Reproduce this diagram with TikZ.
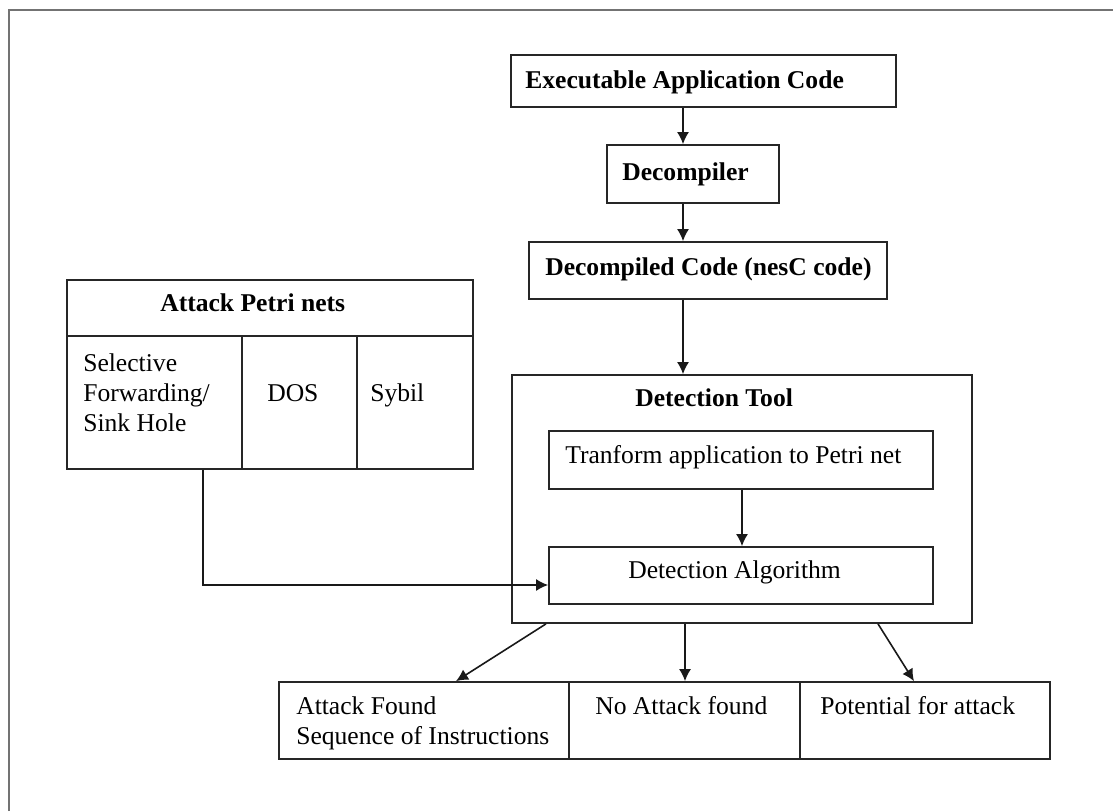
\documentclass[tikz,border=0pt]{standalone}
\usepackage{fontspec}
\setmainfont{Liberation Serif}
\usetikzlibrary{fit,arrows.meta}
\tikzset{
  box/.style={draw=black!85, line width=1.3pt, inner sep=0pt, rectangle},
  txt/.style={anchor=base west, inner sep=0pt, font=\fontsize{19.2}{22.6}\selectfont},
  btxt/.style={txt, font=\fontsize{19.2}{22.6}\selectfont\bfseries},
  arr/.style={draw=black!90, line width=1.2pt, -{Latex[length=9pt,width=9pt]}},
}
\begin{document}
\begin{tikzpicture}[x=0.75pt,y=-0.75pt]
\useasboundingbox (0,0) rectangle (1113,811);
\draw[black!55, line width=2.2pt] (9,811) -- (9,10) -- (1113,10);
% top chain
\node[box, fit={(511,55) (896,107)}] (exec) {};
\node[btxt] (execT) at (525,88) {Executable Application Code};
\node[box, fit={(607,145) (779,203)}] (decomp) {};
\node[btxt] (decompT) at (622,180) {Decompiler};
\node[box, fit={(529,242) (887,299)}] (dcode) {};
\node[btxt] (dcodeT) at (545,275) {Decompiled Code (nesC code)};
% detection tool
\node[box, fit={(512,375) (972,623)}] (dtool) {};
\node[btxt] (dtoolT) at (635,406) {Detection Tool};
\node[box, fit={(549,431) (933,489)}] (trans) {};
\node[txt] (transT) at (565,463) {Tranform application to Petri net};
\node[box, fit={(549,547) (933,604)}] (algo) {};
\node[txt] (algoT) at (628,578) {Detection Algorithm};
% attack petri nets table
\node[box, fit={(67,280) (473,336)}] (aph) {};
\node[btxt] (aphT) at (160,311) {Attack Petri nets};
\node[box, fit={(67,336) (242,469)}] (sel) {};
\node[txt, align=left, anchor=north west] (selT) at (83,353) {Selective\\Forwarding/\\Sink Hole};
\node[box, fit={(242,336) (357,469)}] (dos) {};
\node[txt] (dosT) at (267,401) {DOS};
\node[box, fit={(357,336) (473,469)}] (syb) {};
\node[txt] (sybT) at (370,401) {Sybil};
% results table
\node[box, fit={(279,682) (569,759)}] (r1) {};
\node[txt, align=left, anchor=north west] (r1T) at (296,696) {Attack Found\\Sequence of Instructions};
\node[box, fit={(569,682) (800,759)}] (r2) {};
\node[txt] (r2T) at (595,714) {No Attack found};
\node[box, fit={(800,682) (1050,759)}] (r3) {};
\node[txt] (r3T) at (820,714) {Potential for attack};
% helper coordinates
\coordinate (cx) at (683,0);
\coordinate (tx) at (742,0);
\coordinate (lx) at (203,0);
\coordinate (ly) at (0,585);
\coordinate (o1) at (546,0);
\coordinate (e1) at (456,0);
\coordinate (o3) at (878,0);
\coordinate (e3) at (914,0);
\coordinate (mx) at (685,0);
% connectors
\draw[arr] (exec.south -| cx) -- (decomp.north -| cx);
\draw[arr] (decomp.south -| cx) -- (dcode.north -| cx);
\draw[arr] (dcode.south -| cx) -- (dtool.north -| cx);
\draw[arr] (trans.south -| tx) -- (algo.north -| tx);
\draw[arr] (sel.south -| lx) -- (lx |- ly) -- (algo.west |- ly);
\draw[arr] (dtool.south -| o1) -- (r1.north -| e1);
\draw[arr] (dtool.south -| mx) -- (r2.north -| mx);
\draw[arr] (dtool.south -| o3) -- (r3.north -| e3);
\end{tikzpicture}
\end{document}
